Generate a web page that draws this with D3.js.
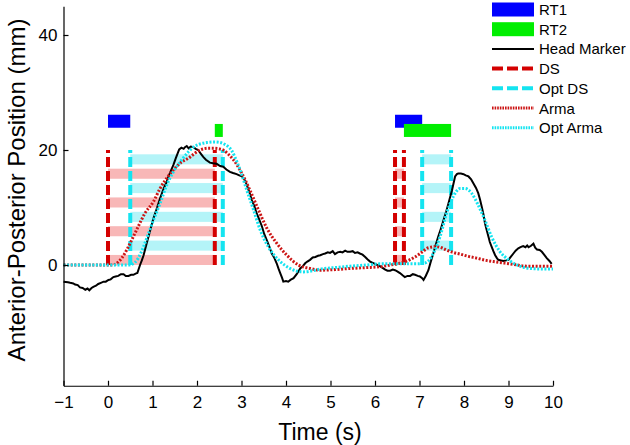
<!DOCTYPE html>
<html><head><meta charset="utf-8">
<script src="https://cdn.jsdelivr.net/npm/d3@7"></script>
<style>
body{margin:0;background:#fff}
text{font-family:"Liberation Sans",Arial,Helvetica,sans-serif;fill:#000}
</style>
</head><body>
<svg id="c" width="630" height="445"></svg>
<script>
// ---------------- data ----------------
const xTicks = [-1,0,1,2,3,4,5,6,7,8,9,10];
const yTicks = [0,20,40];

// Head Marker (black solid)
const headT = [-1.0,-0.9,-0.85,-0.78,-0.74,-0.68,-0.63,-0.57,-0.51,-0.46,-0.42,-0.37,-0.33,-0.27,-0.22,-0.16,-0.10,-0.05,0.01,0.06,0.12,0.17,0.23,0.29,0.35,0.40,0.46,0.52,0.57,0.62,0.66,0.69,0.72,0.76,0.80,0.87,0.95,1.02,1.10,1.17,1.25,1.31,1.36,1.42,1.47,1.52,1.55,1.60,1.65,1.70,1.73,1.77,1.81,1.86,1.92,1.97,2.03,2.08,2.14,2.20,2.29,2.36,2.44,2.52,2.59,2.66,2.74,2.81,2.89,2.95,3.01,3.07,3.12,3.18,3.23,3.29,3.34,3.40,3.46,3.51,3.57,3.63,3.68,3.74,3.79,3.83,3.87,3.91,3.94,4.00,4.05,4.10,4.17,4.24,4.32,4.38,4.43,4.48,4.54,4.60,4.66,4.72,4.77,4.83,4.88,4.94,4.99,5.05,5.10,5.16,5.22,5.27,5.33,5.38,5.44,5.50,5.55,5.61,5.66,5.72,5.78,5.83,5.89,5.94,6.00,6.05,6.11,6.17,6.23,6.28,6.34,6.40,6.45,6.50,6.56,6.62,6.67,6.73,6.79,6.85,6.90,6.96,7.01,7.06,7.09,7.14,7.20,7.25,7.31,7.36,7.42,7.48,7.54,7.60,7.65,7.73,7.80,7.84,7.87,7.93,7.99,8.04,8.10,8.16,8.21,8.27,8.32,8.36,8.40,8.44,8.47,8.51,8.55,8.58,8.62,8.66,8.70,8.74,8.77,8.83,8.89,8.95,9.00,9.05,9.11,9.16,9.22,9.27,9.33,9.38,9.42,9.45,9.50,9.56,9.60,9.64,9.70,9.75,9.80,9.86,9.92,9.97];
const headV = [-2.9,-3.0,-3.1,-3.2,-3.4,-3.5,-3.9,-4.0,-4.3,-4.1,-4.4,-4.0,-3.8,-3.6,-3.3,-3.1,-2.9,-2.9,-2.6,-2.5,-2.1,-2.0,-1.9,-1.6,-1.6,-1.9,-1.9,-1.7,-1.7,-1.5,-1.4,-0.7,0.0,0.8,1.7,3.8,6.1,8.1,9.9,11.6,13.3,14.3,15.4,16.5,17.4,18.5,19.1,20.1,20.4,20.2,20.5,20.7,20.3,20.6,20.5,20.2,20.0,19.4,18.8,18.3,17.8,17.7,17.6,17.2,17.1,16.6,16.2,16.0,15.8,15.6,15.4,14.8,13.9,12.6,11.3,10.2,9.0,7.9,6.7,5.4,4.3,3.1,2.0,1.2,0.3,-0.6,-1.4,-2.2,-2.9,-2.8,-2.9,-2.6,-2.3,-1.6,-0.6,-0.2,0.3,0.6,0.9,1.3,1.4,1.6,1.7,1.9,2.0,2.2,2.1,2.4,1.9,2.2,2.3,2.2,2.5,2.3,2.3,2.4,2.1,2.2,2.0,1.8,1.4,1.0,0.6,0.4,0.2,0.0,-0.2,-0.5,-0.8,-1.0,-1.0,-0.8,-0.9,-1.1,-1.4,-1.8,-2.1,-1.9,-1.9,-1.6,-1.7,-1.9,-2.0,-2.3,-2.6,-1.9,-0.9,0.5,2.0,3.4,4.9,6.3,7.8,9.3,10.7,13.0,15.4,15.8,15.9,15.9,15.8,15.6,15.4,14.9,14.2,13.4,12.5,11.4,10.1,8.7,7.3,6.1,4.9,4.0,3.2,2.4,1.7,1.2,0.9,0.8,0.7,0.8,0.9,1.4,2.0,2.5,2.9,3.1,3.3,3.1,3.4,3.1,3.3,3.7,3.0,2.7,2.6,2.3,1.8,1.2,0.7,0.2];

// Arma (red dotted)
const armaT = [-1,-0.5,0,0.1,0.16,0.23,0.31,0.42,0.53,0.68,0.83,1.02,1.17,1.40,1.62,1.81,2.07,2.25,2.37,2.50,2.59,2.70,2.82,3.01,3.19,3.38,3.57,3.79,4.02,4.28,4.54,4.77,5.10,5.44,5.80,6.11,6.35,6.56,6.75,6.90,7.05,7.20,7.38,7.50,7.61,7.75,7.91,8.10,8.28,8.50,8.66,8.85,9.04,9.20,9.41,9.70,10.0];
const armaV = [0,0,0,0,0.1,0.5,1.2,2.6,4.3,6.7,9.0,11.0,13.3,15.9,17.7,18.6,20.0,20.3,20.3,20.2,20.0,19.3,18.3,15.9,13.0,9.6,6.4,3.8,1.7,0.0,-0.6,-0.9,-0.8,-0.6,-0.45,-0.3,0.0,0.3,0.8,1.4,2.2,3.0,3.2,3.0,2.6,2.2,1.9,1.5,1.2,0.8,0.6,0.4,0.2,0.0,-0.2,-0.2,-0.2];

// Opt Arma (cyan dotted)
const optArmaT = [-1,0,0.45,0.50,0.60,0.68,0.80,0.91,1.02,1.17,1.32,1.47,1.66,1.81,1.92,2.05,2.22,2.40,2.52,2.62,2.70,2.78,2.85,2.97,3.12,3.27,3.42,3.60,3.83,4.09,4.39,4.60,4.77,5.10,5.44,5.80,6.11,6.56,6.94,7.10,7.20,7.31,7.46,7.61,7.76,7.91,8.02,8.17,8.32,8.47,8.62,8.81,9.00,9.19,9.49,9.75,10.0];
const optArmaV = [0,0,0,0.05,0.4,1.2,3.2,5.5,7.8,10.7,13.9,16.2,18.3,19.7,20.5,21.0,21.3,21.4,21.3,21.0,20.6,19.9,18.8,16.5,13.0,9.6,6.1,3.2,0.9,-0.6,-1.2,-1.0,-0.7,-0.45,-0.2,0.0,0.2,0.2,0.2,0.3,0.7,2.0,4.9,9.0,11.9,13.3,13.3,12.5,10.4,7.8,4.9,2.3,0.9,0.0,-0.6,-0.7,-0.7];

// Events (s)
const dsStart  = [0.00, 6.45];
const dsEnd    = [2.40, 6.65];
const optStart = [0.50, 7.06];
const optEnd   = [2.58, 7.71];
const eventLevel = [0, 20];     // mm range of event markers
const rt1Level = 25;            // mm
const rt2Level = 23.4;          // mm
const stripeCount = 8;

const legendLabels = ["RT1","RT2","Head Marker","DS","Opt DS","Arma","Opt Arma"];

// ---------------- styles ----------------
const C = {
  blue:"#0000ff", green:"#00ee00", black:"#000",
  red:"#d40000", redDot:"#cc1515", cyan:"#14e4f0",
  pink:"#f8b7b7", lightCyan:"#b4f4f8"
};

// ---------------- drawing ----------------
const svg = d3.select("#c");
const x = d3.scaleLinear().domain([-1,10]).range([63.5,553]);
const y = d3.scaleLinear().domain([-21,45]).range([385.75,6.25]);

// stripes
const stripes = [];
dsStart.forEach((_, i) => {
  const step = (eventLevel[1]-eventLevel[0]) / stripeCount;
  for (let k = 0; k < stripeCount; k++) {
    const lo = eventLevel[0] + k*step;
    const even = k % 2 === 0;
    stripes.push({
      x0: even ? dsStart[i] : optStart[i],
      x1: even ? dsEnd[i] : optEnd[i],
      y0: lo, y1: lo + step*0.7,
      fill: even ? C.pink : C.lightCyan
    });
  }
});
svg.append("g").selectAll("rect").data(stripes).join("rect")
  .attr("x", d => x(d.x0)).attr("width", d => x(d.x1)-x(d.x0))
  .attr("y", d => y(d.y1)).attr("height", d => y(d.y0)-y(d.y1))
  .attr("fill", d => d.fill);

// RT bars
const rtBars = [];
dsStart.forEach((_, i) => {
  rtBars.push({x0: dsStart[i], x1: optStart[i], lv: rt1Level, fill: C.blue});
  rtBars.push({x0: dsEnd[i], x1: optEnd[i], lv: rt2Level, fill: C.green});
});
svg.append("g").selectAll("rect").data(rtBars).join("rect")
  .attr("x", d => x(d.x0)).attr("width", d => x(d.x1)-x(d.x0))
  .attr("y", d => y(d.lv)-6.5).attr("height", 13)
  .attr("fill", d => d.fill);

// vertical event lines
function vlines(vals, color) {
  svg.append("g").selectAll("line").data(vals).join("line")
    .attr("x1", d => x(d)).attr("x2", d => x(d))
    .attr("y1", y(eventLevel[0])).attr("y2", y(eventLevel[1]))
    .attr("stroke", color).attr("stroke-width", 4)
    .attr("stroke-dasharray", "10,4");
}
vlines(dsStart.concat(dsEnd), C.red);
vlines(optStart.concat(optEnd), C.cyan);

// curves
function curve(T, V, color, width, dash, cv) {
  const pts = T.map((t, i) => [t, V[i]]);
  svg.append("path").datum(pts)
    .attr("d", d3.line().x(d => x(d[0])).y(d => y(d[1])).curve(cv))
    .attr("fill", "none").attr("stroke", color).attr("stroke-width", width)
    .attr("stroke-dasharray", dash);
}
curve(headT, headV, C.black, 2, null, d3.curveLinear);
curve(armaT, armaV, C.redDot, 3, "2,1.6", d3.curveMonotoneX);
curve(optArmaT, optArmaV, C.cyan, 3, "2,1.6", d3.curveMonotoneX);

// axes
const xAxis = d3.axisBottom(x).tickValues(xTicks).tickSizeInner(-5).tickSizeOuter(0).tickPadding(10)
  .tickFormat(d3.format("d"));
const yAxis = d3.axisLeft(y).tickValues(yTicks).tickSizeInner(-5).tickSizeOuter(0).tickPadding(6)
  .tickFormat(d3.format("d"));
const gx = svg.append("g").attr("transform", `translate(0,${y.range()[0]})`).call(xAxis);
const gy = svg.append("g").attr("transform", `translate(${x.range()[0]},0)`).call(yAxis);
[gx, gy].forEach(g => {
  g.select(".domain").attr("stroke", "#000").attr("stroke-width", 1.2);
  g.selectAll(".tick line").attr("stroke", "#000").attr("stroke-width", 1.2);
  g.selectAll(".tick text").attr("font-size", 17).attr("font-family", '"Liberation Sans",Arial,sans-serif').attr("fill","#000");
});

// axis titles
svg.append("text").attr("x", 320).attr("y", 440).attr("text-anchor", "middle")
  .attr("font-size", 23).text("Time (s)");
svg.append("text").attr("transform", "translate(25,190) rotate(-90)")
  .attr("text-anchor", "middle").attr("font-size", 24).text("Anterior-Posterior Position (mm)");

// legend
const lg = svg.append("g");
const lx0 = 492, lx1 = 534, ly0 = 9.5, ldy = 19.7;
const legendStyles = [
  {type:"patch", color:C.blue},
  {type:"patch", color:C.green},
  {type:"line", color:C.black, w:2, dash:null},
  {type:"line", color:C.red, w:4, dash:"11,4"},
  {type:"line", color:C.cyan, w:4, dash:"11,4"},
  {type:"line", color:C.redDot, w:3, dash:"1.6,1"},
  {type:"line", color:C.cyan, w:3, dash:"1.6,1"}
];
legendLabels.forEach((lab, i) => {
  const cy = ly0 + i*ldy, s = legendStyles[i];
  if (s.type === "patch") {
    lg.append("rect").attr("x", lx0).attr("y", cy-7).attr("width", lx1-lx0).attr("height", 14).attr("fill", s.color);
  } else {
    lg.append("line").attr("x1", lx0).attr("x2", lx1).attr("y1", cy).attr("y2", cy)
      .attr("stroke", s.color).attr("stroke-width", s.w).attr("stroke-dasharray", s.dash);
  }
  lg.append("text").attr("x", 539).attr("y", cy+5.5).attr("font-size", 15).text(lab);
});
</script>
</body></html>
